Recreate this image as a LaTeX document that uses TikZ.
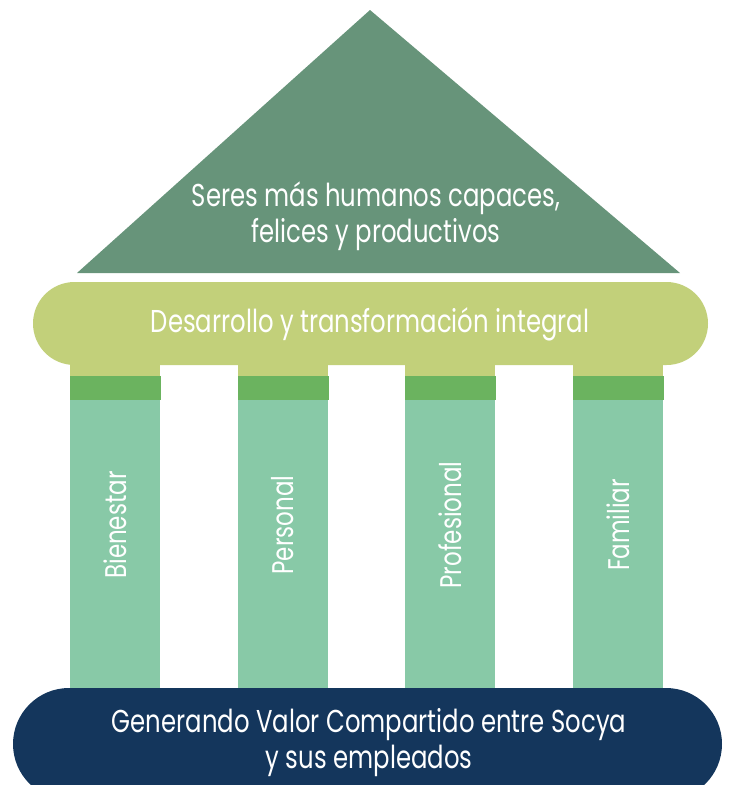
\documentclass[tikz,border=0pt]{standalone}
\usepackage{fontspec}
\setmainfont[FakeStretch=0.77]{Poppins}
\usetikzlibrary{shapes.misc}

\definecolor{roofgreen}{HTML}{67947A}
\definecolor{beamgreen}{HTML}{C2D07A}
\definecolor{capgreen}{HTML}{6BB35F}
\definecolor{pillargreen}{HTML}{88C9A7}
\definecolor{basenavy}{HTML}{14365C}

\tikzset{
  label text/.style={text=white, font=\fontsize{18}{20.5}\selectfont, align=center},
  pillar text/.style={label text, font=\fontsize{17}{20}\selectfont, rotate=90},
  pill/.style={rounded rectangle, inner sep=0pt},
}

\begin{document}
\begin{tikzpicture}[x=0.02cm, y=-0.02cm]
    \useasboundingbox (0,0) rectangle (730,785);
    \clip (0,0) rectangle (730,785);
    % roof
    \fill[roofgreen] (370,10) -- (680,273) -- (77,273) -- cycle;
    \node[label text] (roof) at (376,216) {Seres más humanos capaces,\\felices y productivos};
    % beam
    \node[pill, fill=beamgreen, minimum width=675*0.02cm, minimum height=83*0.02cm] (beam) at (370.5,323.5) {};
    \node[label text] (beamtext) at (370,324) {Desarrollo y transformación integral};
    % pillars
    \foreach \x/\name/\txt in {70/bien/Bienestar, 238/pers/Personal, 405/prof/Profesional, 573/fam/Familiar} {
      \fill[beamgreen] (\x,364) rectangle ++(90,12);
      \fill[capgreen] (\x,376) rectangle ++(91,24);
      \fill[pillargreen] (\x,400) rectangle ++(90,290);
      \node[pillar text] (\name) at (\x+45,525) {\txt};
    }
    % base
    \node[pill, fill=basenavy, minimum width=709*0.02cm, minimum height=112*0.02cm] (base) at (367.5,744) {};
    \node[label text] (basetext) at (369,743) {Generando Valor Compartido entre Socya\\y sus empleados};
\end{tikzpicture}
\end{document}
